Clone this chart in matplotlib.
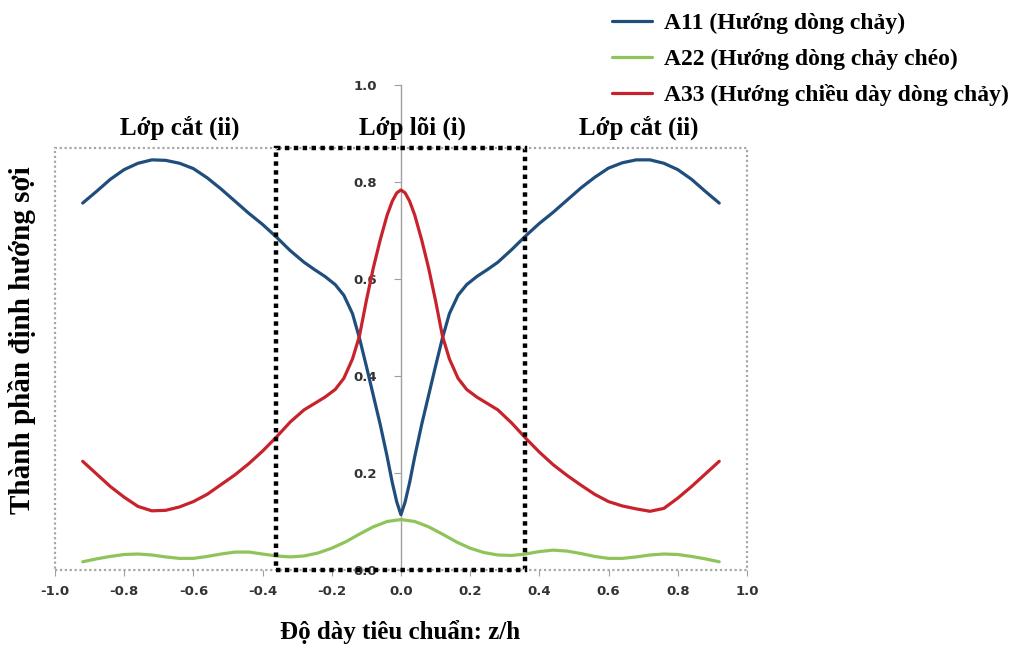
import matplotlib
matplotlib.use("Agg")
import matplotlib.pyplot as plt
from matplotlib.patches import Rectangle

# z/h positions and fiber orientation components
z_pos = [-0.92, -0.88, -0.84, -0.80, -0.76, -0.72, -0.68, -0.64, -0.60, -0.56,
         -0.52, -0.48, -0.44, -0.40, -0.36, -0.32, -0.28, -0.25, -0.22, -0.19,
         -0.165, -0.14, -0.12, -0.10, -0.08, -0.06, -0.04, -0.025, -0.012, 0.0,
         0.012, 0.025, 0.04, 0.06, 0.08, 0.10, 0.12, 0.14, 0.165, 0.19,
         0.22, 0.25, 0.28, 0.32, 0.36, 0.40, 0.44, 0.48, 0.52, 0.56,
         0.60, 0.64, 0.68, 0.72, 0.76, 0.80, 0.84, 0.88, 0.92]

a11 = [0.756, 0.780, 0.805, 0.825, 0.838, 0.845, 0.844, 0.838, 0.827, 0.808,
       0.785, 0.760, 0.735, 0.712, 0.686, 0.658, 0.634, 0.619, 0.605, 0.588,
       0.566, 0.528, 0.478, 0.420, 0.360, 0.300, 0.234, 0.180, 0.140, 0.114,
       0.140, 0.180, 0.234, 0.300, 0.360, 0.420, 0.478, 0.528, 0.566, 0.588,
       0.605, 0.619, 0.634, 0.660, 0.688, 0.714, 0.737, 0.762, 0.787, 0.809,
       0.828, 0.839, 0.845, 0.845, 0.838, 0.825, 0.805, 0.780, 0.756]

a33 = [0.224, 0.198, 0.172, 0.150, 0.131, 0.122, 0.123, 0.130, 0.141, 0.156,
       0.176, 0.196, 0.219, 0.245, 0.274, 0.305, 0.330, 0.343, 0.356, 0.372,
       0.395, 0.435, 0.482, 0.555, 0.622, 0.680, 0.731, 0.760, 0.777, 0.783,
       0.777, 0.760, 0.731, 0.680, 0.622, 0.555, 0.482, 0.435, 0.395, 0.372,
       0.356, 0.343, 0.330, 0.303, 0.272, 0.243, 0.217, 0.195, 0.175, 0.156,
       0.141, 0.132, 0.126, 0.121, 0.127, 0.148, 0.172, 0.198, 0.224]

z_a22 = [-0.92, -0.88, -0.84, -0.80, -0.76, -0.72, -0.68, -0.64, -0.60, -0.56,
         -0.52, -0.48, -0.44, -0.40, -0.36, -0.32, -0.28, -0.24, -0.20, -0.16,
         -0.12, -0.08, -0.04, 0.0, 0.04, 0.08, 0.12, 0.16, 0.20, 0.24,
         0.28, 0.32, 0.36, 0.40, 0.44, 0.48, 0.52, 0.56, 0.60, 0.64,
         0.68, 0.72, 0.76, 0.80, 0.84, 0.88, 0.92]
a22 = [0.017, 0.023, 0.028, 0.032, 0.033, 0.031, 0.027, 0.024, 0.024, 0.028,
       0.033, 0.037, 0.037, 0.033, 0.029, 0.027, 0.029, 0.035, 0.045, 0.058,
       0.074, 0.089, 0.100, 0.104, 0.100, 0.089, 0.074, 0.058, 0.045, 0.036,
       0.031, 0.030, 0.033, 0.038, 0.041, 0.039, 0.034, 0.028, 0.024, 0.024,
       0.027, 0.031, 0.033, 0.032, 0.028, 0.023, 0.017]

x_ticks = [-1.0, -0.8, -0.6, -0.4, -0.2, 0.0, 0.2, 0.4, 0.6, 0.8, 1.0]
y_ticks = [0.0, 0.2, 0.4, 0.6, 0.8, 1.0]

core_half = 0.36      # core layer boundary |z/h|
frame_top = 0.87      # top of the dotted plot frame

serif = ["Liberation Serif", "DejaVu Serif"]

fig = plt.figure(figsize=(10.13, 6.46), dpi=100)
ax = fig.add_axes([0.0543, 0.1176, 0.683, 0.7514])

line_kw = dict(lw=2.3, solid_capstyle="round", solid_joinstyle="round", zorder=4)
ax.plot(z_pos, a11, color="#1f4e7d", label="A11 (Hướng dòng chảy)", **line_kw)
ax.plot(z_a22, a22, color="#8fc45a", label="A22 (Hướng dòng chảy chéo)", **line_kw)
ax.plot(z_pos, a33, color="#c8232c", label="A33 (Hướng chiều dày dòng chảy)", **line_kw)

ax.set_xlim(-1.0, 1.0)
ax.set_ylim(0.0, 1.0)

# grey dotted outer frame
ax.add_patch(Rectangle((-1.0, 0.0), 2.0, frame_top, fill=False, ec="#a6a6a6",
                       lw=1.6, ls=(0, (1, 1.2)), clip_on=False, zorder=1))
# black dotted core region
ax.add_patch(Rectangle((-core_half, 0.0), 2 * core_half, frame_top, fill=False,
                       ec="black", lw=3.2, ls=(0, (1, 1)), clip_on=False, zorder=5))

for s in ["top", "right", "bottom"]:
    ax.spines[s].set_visible(False)
ax.spines["left"].set_position(("data", 0.0))
ax.spines["left"].set_color("#a0a0a0")
ax.spines["left"].set_linewidth(1.0)

ax.set_xticks(x_ticks)
ax.set_xticklabels([f"{v:.1f}" for v in x_ticks])
ax.set_yticks(y_ticks)
ax.set_yticklabels([f"{v:.1f}" for v in y_ticks])
for lbl in ax.get_xticklabels() + ax.get_yticklabels():
    lbl.set_fontfamily("DejaVu Sans")
    lbl.set_fontweight("bold")
    lbl.set_fontsize(9.5)
    lbl.set_color("#333333")
ax.tick_params(axis="x", length=4, color="#a0a0a0", pad=7)
ax.tick_params(axis="y", length=5, color="#a0a0a0", pad=12)

sec_kw = dict(ha="center", va="center", family=serif, weight="bold", fontsize=18)
ax.text(-0.64, 0.911, "Lớp cắt (ii)", **sec_kw)
ax.text(0.032, 0.911, "Lớp lõi (i)", **sec_kw)
ax.text(0.688, 0.911, "Lớp cắt (ii)", **sec_kw)

fig.text(0.022, 0.474, "Thành phần định hướng sợi", rotation=90, ha="center",
         va="center", family=serif, weight="bold", fontsize=21)
fig.text(0.395, 0.022, "Độ dày tiêu chuẩn: z/h", ha="center", va="center",
         family=serif, weight="bold", fontsize=18)

fig.legend(loc="upper left", bbox_to_anchor=(0.583, 1.013), frameon=False,
           handlelength=1.7, handletextpad=0.5, labelspacing=0.6,
           prop={"family": serif, "weight": "bold", "size": 17})

fig.savefig("out.png", dpi=100)
